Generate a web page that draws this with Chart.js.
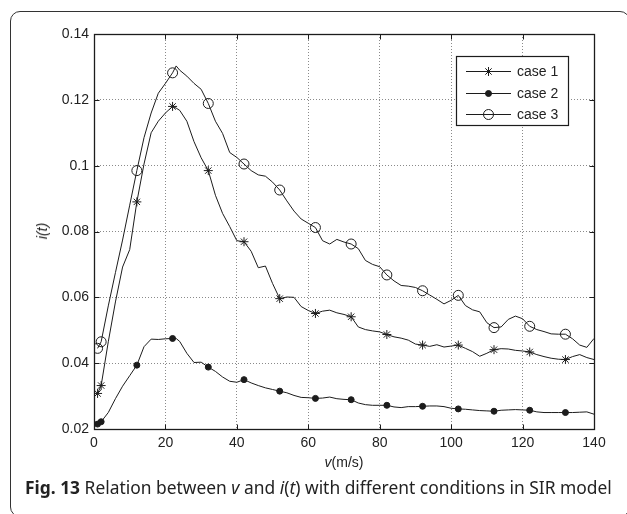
<!DOCTYPE html>
<html><head><meta charset="utf-8">
<script src="https://cdn.jsdelivr.net/npm/chart.js@4"></script>
<style>
html,body{margin:0;padding:0;background:#fff;width:627px;height:514px;overflow:hidden;position:relative;}
#frame{position:absolute;left:10px;top:11px;width:620px;height:506px;border:1.5px solid #333;border-radius:10px;box-sizing:border-box;}
#wrap{position:absolute;left:0;top:0;width:627px;height:514px;}
.ax{position:absolute;font-family:"Liberation Sans",Arial,sans-serif;font-size:14px;color:#222;white-space:nowrap;line-height:1;}
#xtitle{left:344px;top:455px;transform:translateX(-50%);}
#ytitle{left:42px;top:231px;transform:translate(-50%,-50%) rotate(-90deg);font-style:italic;}
#caption{position:absolute;left:25px;top:477px;font-family:"Noto Sans","Open Sans",sans-serif;font-size:17.4px;color:#222;white-space:nowrap;line-height:1.2;}
#caption b{font-weight:700;}
</style>
</head><body>
<div id="frame"></div>
<div id="wrap"><canvas id="c" width="627" height="514"></canvas></div>
<div class="ax" id="xtitle"><i>v</i>(m/s)</div>
<div class="ax" id="ytitle">i(t)</div>
<div id="caption"><b>Fig. 13</b> Relation between <i>v</i> and <i>i</i>(<i>t</i>) with different conditions in SIR model</div>
<script>
const speeds = [1,2,4,6,8,10,12,14,16,18,20,22,23,24,26,28,30,32,34,36,38,40,42,44,46,48,50,52,54,56,58,60,62,64,66,68,70,72,74,76,78,80,82,84,86,88,90,92,94,96,98,100,102,104,106,108,110,112,114,116,118,120,122,124,126,128,130,132,134,136,138,140];
const case1 = [0.0308,0.0332,0.0465,0.0586,0.0692,0.0745,0.0890,0.1005,0.1100,0.1135,0.1160,0.1180,0.1175,0.1168,0.1135,0.1073,0.1024,0.0985,0.0910,0.0855,0.0815,0.0772,0.0769,0.0740,0.0690,0.0695,0.0642,0.0596,0.0601,0.0600,0.0572,0.0560,0.0551,0.0558,0.0561,0.0553,0.0548,0.0541,0.0510,0.0502,0.0498,0.0495,0.0487,0.0480,0.0476,0.0470,0.0458,0.0455,0.0451,0.0456,0.0449,0.0452,0.0455,0.0445,0.0435,0.0421,0.0430,0.0441,0.0444,0.0443,0.0439,0.0437,0.0434,0.0426,0.0420,0.0415,0.0412,0.0411,0.0420,0.0426,0.0417,0.0411];
const case2 = [0.0215,0.0222,0.0250,0.0292,0.0330,0.0362,0.0394,0.0450,0.0473,0.0472,0.0474,0.0475,0.0475,0.0466,0.0430,0.0402,0.0403,0.0388,0.0375,0.0358,0.0345,0.0342,0.0350,0.0340,0.0332,0.0325,0.0320,0.0315,0.0310,0.0302,0.0296,0.0295,0.0293,0.0294,0.0297,0.0292,0.0290,0.0289,0.0279,0.0274,0.0272,0.0272,0.0272,0.0267,0.0265,0.0268,0.0268,0.0269,0.0270,0.0270,0.0268,0.0263,0.0261,0.0260,0.0258,0.0256,0.0255,0.0254,0.0257,0.0258,0.0259,0.0258,0.0257,0.0252,0.0250,0.0250,0.0250,0.0250,0.0250,0.0251,0.0252,0.0245];
const case3 = [0.0445,0.0465,0.0574,0.0675,0.0774,0.0880,0.0985,0.1085,0.1160,0.1220,0.1250,0.1282,0.1303,0.1290,0.1272,0.1250,0.1232,0.1189,0.1135,0.1098,0.1040,0.1025,0.1005,0.0985,0.0972,0.0968,0.0950,0.0926,0.0893,0.0862,0.0838,0.0825,0.0812,0.0772,0.0762,0.0776,0.0768,0.0762,0.0748,0.0712,0.0700,0.0693,0.0668,0.0650,0.0636,0.0634,0.0630,0.0620,0.0607,0.0594,0.0580,0.0591,0.0606,0.0575,0.0562,0.0556,0.0523,0.0508,0.0510,0.0533,0.0543,0.0535,0.0512,0.0502,0.0496,0.0489,0.0488,0.0488,0.0474,0.0455,0.0448,0.0475];
const markerSpeeds = [1,2,12,22,32,42,52,62,72,82,92,102,112,122,132];
const seriesNames = ['case 1','case 2','case 3'];
const xTicks = [0,20,40,60,80,100,120,140];
const yTicks = [0.02,0.04,0.06,0.08,0.1,0.12,0.14];
const yTickLabels = ['0.02','0.04','0.06','0.08','0.1','0.12','0.14'];

const INK = '#1c1c1c';
const pts = arr => speeds.map((v,i)=>({x:v,y:arr[i]}));
const markR = r => ctx => markerSpeeds.includes(speeds[ctx.dataIndex]) ? r : 0;

function mkSet(label, arr, style, r, fill){
  return {label, data:pts(arr), borderColor:INK, borderWidth:1, tension:0,
    pointStyle:style, pointRadius:markR(r), pointHoverRadius:markR(r),
    pointBorderColor:INK, pointBorderWidth:1, pointBackgroundColor:fill, legendR:r};
}

const boxPlugin = {
  id:'boxPlugin',
  afterDatasetsDraw(chart){
    const {ctx, chartArea:a, scales:{x,y}} = chart;
    ctx.save();
    ctx.strokeStyle = INK; ctx.lineWidth = 1;
    ctx.setLineDash([]);
    const L=Math.round(a.left)+0.5, R=Math.round(a.right)+0.5, T=Math.round(a.top)+0.5, B=Math.round(a.bottom)+0.5;
    ctx.beginPath();
    xTicks.forEach(v=>{const px=Math.round(x.getPixelForValue(v))+0.5; ctx.moveTo(px,B); ctx.lineTo(px,B-5); ctx.moveTo(px,T); ctx.lineTo(px,T+5);});
    yTicks.forEach(v=>{const py=Math.round(y.getPixelForValue(v))+0.5; ctx.moveTo(L,py); ctx.lineTo(L+5,py); ctx.moveTo(R,py); ctx.lineTo(R-5,py);});
    ctx.stroke();
    ctx.lineWidth = 1.3;
    ctx.strokeRect(L,T,R-L,B-T);
    // legend
    const lx=456.5, ly=56.5, lw=112, lh=69;
    ctx.fillStyle='#fff'; ctx.fillRect(lx,ly,lw,lh);
    ctx.lineWidth=1.2; ctx.strokeRect(lx,ly,lw,lh);
    const rows=[71,93,114];
    chart.data.datasets.forEach((ds,i)=>{
      const yy=rows[i]+0.5;
      ctx.lineWidth=1; ctx.strokeStyle=INK;
      ctx.beginPath(); ctx.moveTo(466,yy); ctx.lineTo(511,yy); ctx.stroke();
      ctx.fillStyle=ds.pointBackgroundColor; ctx.strokeStyle=INK; ctx.lineWidth=1;
      Chart.helpers.drawPoint(ctx,{pointStyle:ds.pointStyle,radius:ds.legendR,borderWidth:1,rotation:0},488.5,yy);
      ctx.fillStyle='#222'; ctx.font='14px "Liberation Sans", Arial, sans-serif';
      ctx.textAlign='left'; ctx.textBaseline='middle';
      ctx.fillText(seriesNames[i],517,yy+1);
    });
    ctx.restore();
  }
};

new Chart(document.getElementById('c'),{
  type:'line',
  data:{datasets:[
    mkSet(seriesNames[0],case1,'star',4.5,INK),
    mkSet(seriesNames[1],case2,'circle',3,INK),
    mkSet(seriesNames[2],case3,'circle',5,'rgba(255,255,255,0)')
  ]},
  options:{
    responsive:false, animation:false, devicePixelRatio:1,
    layout:{padding:{left:0,top:34,right:33,bottom:0}},
    plugins:{legend:{display:false},tooltip:{enabled:false}},
    scales:{
      x:{type:'linear',min:0,max:140,
        afterBuildTicks:s=>{s.ticks=xTicks.map(v=>({value:v}));},
        afterFit:s=>{s.height=85;},
        ticks:{color:'#222',font:{family:'"Liberation Sans", Arial, sans-serif',size:14},padding:6,maxRotation:0,callback:v=>String(v)},
        grid:{color:'#8a8a8a',lineWidth:1,drawTicks:false},
        border:{display:false,dash:[1,2]}
      },
      y:{type:'linear',min:0.02,max:0.14,
        afterBuildTicks:s=>{s.ticks=yTicks.map(v=>({value:v}));},
        afterFit:s=>{s.width=94;},
        ticks:{color:'#222',font:{family:'"Liberation Sans", Arial, sans-serif',size:14},padding:5,
          callback:(v)=>{const i=yTicks.findIndex(t=>Math.abs(t-v)<1e-9);return i>=0?yTickLabels[i]:'';}},
        grid:{color:'#8a8a8a',lineWidth:1,drawTicks:false},
        border:{display:false,dash:[1,2]}
      }
    }
  },
  plugins:[boxPlugin]
});
</script>
</body></html>
